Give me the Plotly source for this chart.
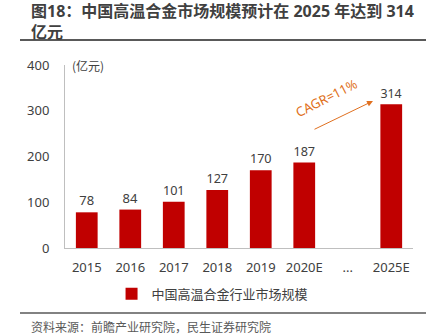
import plotly.graph_objects as go

categories = ["2015", "2016", "2017", "2018", "2019", "2020E", "...", "2025E"]
values = [78, 84, 101, 127, 170, 187, None, 314]
series_name = "中国高温合金行业市场规模"
y_ticks = [0, 100, 200, 300, 400]

BAR = "#C00000"
TXT = "#404040"
AX = "#BFBFBF"
FONT = "Noto Sans, Noto Sans CJK SC, sans-serif"
CJK = "Noto Sans CJK SC, sans-serif"

fig = go.Figure()
fig.add_trace(go.Bar(
    x=categories, y=values, name=series_name,
    marker=dict(color=BAR, line=dict(width=0)),
    width=0.5,
    text=[("" if v is None else str(v)) for v in values],
    textposition="outside", cliponaxis=False,
    textfont=dict(size=13, color=TXT, family=FONT),
))

fig.update_layout(
    width=439, height=334,
    margin=dict(l=65, r=26, t=65, b=86),
    plot_bgcolor="white", paper_bgcolor="white",
    showlegend=True,
    legend=dict(orientation="h", x=0.424, xanchor="center", y=-0.25, yanchor="middle",
                font=dict(size=13, color=TXT, family=CJK), itemwidth=30,
                bgcolor="rgba(0,0,0,0)"),
    bargap=0.5,
    font=dict(family=FONT, color=TXT),
)
fig.update_xaxes(showline=True, linecolor=AX, linewidth=1, showgrid=False,
                 ticks="", tickfont=dict(size=13, color=TXT, family=FONT),
                 ticklabelstandoff=7)
fig.update_yaxes(range=[0, 400], tickvals=y_ticks, showline=True, linecolor=AX, linewidth=1,
                 showgrid=False, zeroline=False, ticks="",
                 tickfont=dict(size=13, color=TXT, family=FONT), ticklabelstandoff=12)

for txt, yy in [("<b>图18：中国高温合金市场规模预计在 2025 年达到 314</b>", 11),
                ("<b>亿元</b>", 32)]:
    fig.add_annotation(text=txt, xref="paper", yref="paper",
                       x=(29 - 65) / 348, y=(248 - yy) / 183,
                       xanchor="left", yanchor="middle", align="left", showarrow=False,
                       font=dict(size=16, color="#404040", family=FONT))

fig.add_annotation(text="(亿元)", xref="paper", yref="paper",
                   x=(70 - 65) / 348, y=(248 - 65) / 183, xanchor="left", yanchor="middle",
                   showarrow=False, font=dict(size=12, color=TXT, family=CJK))

fig.add_annotation(text="资料来源：前瞻产业研究院，民生证券研究院", xref="paper", yref="paper",
                   x=(29 - 65) / 348, y=(248 - 326) / 183, xanchor="left", yanchor="middle",
                   showarrow=False, font=dict(size=12, color="#595959", family=CJK))

# CAGR arrow
fig.add_annotation(text="", xref="paper", yref="paper",
                   x=(373 - 65) / 348, y=(248 - 101) / 183,
                   ax=-60, ay=29, showarrow=True, arrowhead=2, arrowsize=1.2,
                   arrowwidth=1, arrowcolor="#E07020")
fig.add_annotation(text="CAGR=11%", xref="paper", yref="paper",
                   x=(326 - 65) / 348, y=(248 - 98) / 183, xanchor="center", yanchor="middle",
                   textangle=-27, showarrow=False,
                   font=dict(size=13, color="#E07020", family=FONT))

for yy, w in [(40, 2), (313, 1.5)]:
    fig.add_shape(type="line", xref="paper", yref="paper",
                  x0=(20 - 65) / 348, x1=(426 - 65) / 348,
                  y0=(248 - yy) / 183, y1=(248 - yy) / 183,
                  line=dict(color="#595959", width=w))

fig.write_html("out.html")
